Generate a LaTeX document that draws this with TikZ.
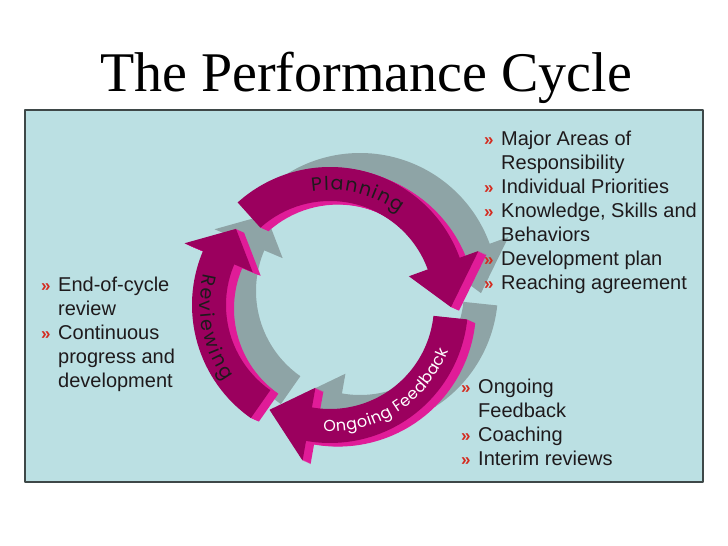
\documentclass[tikz,border=0pt]{standalone}
\usepackage{fontspec}
\setmainfont{Liberation Sans}
\newfontfamily\titlefont{Liberation Serif}
\newfontfamily\arcfont{Poppins}
\usetikzlibrary{decorations.text}
\definecolor{panelcyan}{HTML}{BBE0E3}
\definecolor{panelline}{HTML}{3E4848}
\definecolor{cyclemagenta}{HTML}{9B005E}
\definecolor{cyclepink}{HTML}{E01C98}
\definecolor{cycleshadow}{HTML}{8EA4A6}
\definecolor{bulletred}{HTML}{D42A1E}
\definecolor{darkcharcoal}{HTML}{1E1A1C}

\newcommand{\bul}{\makebox[17pt][l]{\textcolor{bulletred}{\fontsize{17}{17}\selectfont\bfseries »}}}
\newcommand{\ind}{\hspace*{17pt}}
\newcommand{\cyclearrow}[3]{(#1:138) arc[start angle=#1, end angle=#2, radius=138] -- (#2:158) -- (#3:121) -- (#2:84) -- (#2:104) arc[start angle=#2, end angle=#1, radius=104] -- cycle}

\tikzset{
  listtext/.style={font=\fontsize{20}{24}\selectfont, align=left, inner sep=0pt, text=darkcharcoal, anchor=north west},
  arrowface/.style={fill=cyclemagenta},
  arrowside/.style={fill=cyclepink},
  arrowshadow/.style={fill=cycleshadow},
  arclabel/.style={decorate, decoration={text along path, text align=fit to path, text color=#1}}
}

\begin{document}
\begin{tikzpicture}[x=1pt, y=1pt, line join=round]
  \useasboundingbox (0,0) rectangle (728,546);
  \fill[white] (0,0) rectangle (728,546);

  % Titulo
  \node[font=\titlefont\fontsize{56}{60}\selectfont, anchor=base] (title) at (366,454) {The Performance Cycle};

  % Panel
  \draw[panelline, fill=panelcyan, line width=1.5pt] (25,64) rectangle (703,436);

  % Ciclo
  \begin{scope}[shift={(330,241)}]
    % sombras grises
    \foreach \ta/\ba/\pa in {132/20/-1, -6/-100/-120, 235/157/141}
      \path[arrowshadow, shift={(30,14)}] \cyclearrow{\ta}{\ba}{\pa};

    % flechas magenta con canto
    \foreach \ta/\ba/\pa in {132/20/-1, -6/-100/-120, 235/157/141} {
      \foreach \t in {1,...,8}
        \path[arrowside, shift={(\t,-0.45*\t)}] \cyclearrow{\ta}{\ba}{\pa};
      \path[arrowface] \cyclearrow{\ta}{\ba}{\pa};
    }

    % textos sobre las flechas
    \path[arclabel=darkcharcoal, decoration={text={|\arcfont\fontsize{19}{19}\selectfont|Planning}}]
      (99:115) arc[start angle=99, end angle=53, radius=115];
    \path[arclabel=darkcharcoal, decoration={text={|\arcfont\fontsize{19}{19}\selectfont|Reviewing}}]
      (166:130) arc[start angle=166, end angle=216, radius=130];
    \path[arclabel=white, decoration={text={|\arcfont\fontsize{16}{16}\selectfont|Ongoing Feedback}}]
      (-93:127) arc[start angle=-93, end angle=-21, radius=127];
  \end{scope}

  % Planning - lista derecha
  \node[listtext] (planlist) at (484,415) {\bul Major Areas of\\ \ind Responsibility\\
    \bul Individual Priorities\\ \bul Knowledge, Skills and\\ \ind Behaviors\\
    \bul Development plan\\ \bul Reaching agreement};

  % Reviewing - lista izquierda
  \node[listtext] (reviewlist) at (41,269) {\bul End-of-cycle\\ \ind review\\
    \bul Continuous\\ \ind progress and\\ \ind development};

  % Ongoing Feedback - lista inferior
  \node[listtext] (feedbacklist) at (461,167) {\bul Ongoing\\ \ind Feedback\\
    \bul Coaching\\ \bul Interim reviews};
\end{tikzpicture}
\end{document}
